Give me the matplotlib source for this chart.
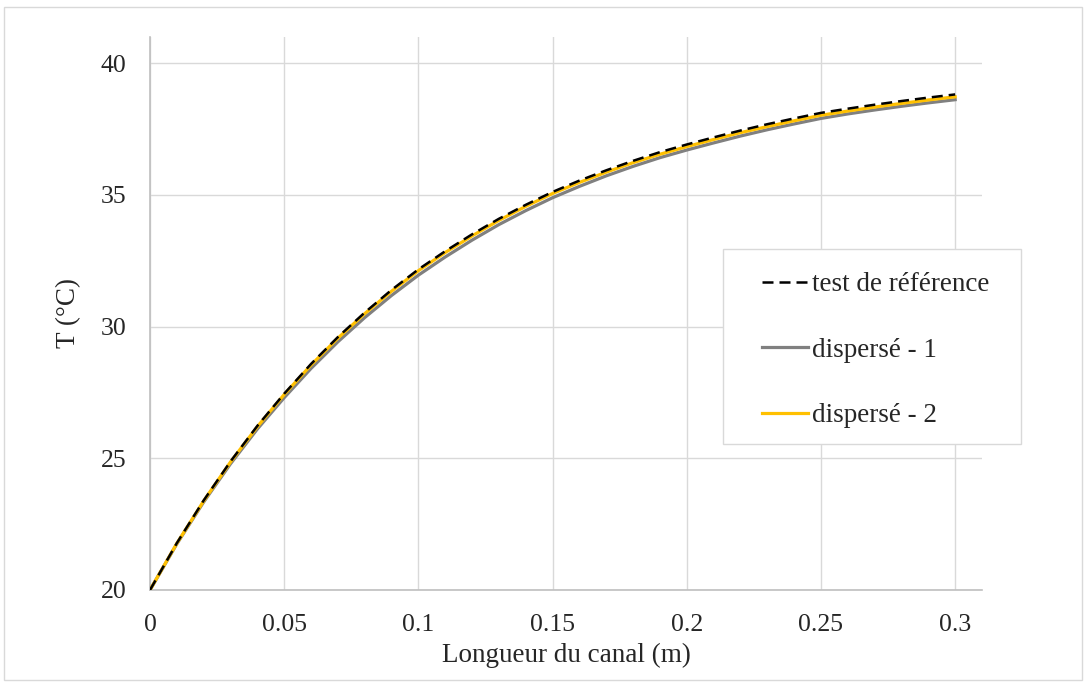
import matplotlib
matplotlib.use("Agg")
import matplotlib.pyplot as plt
from matplotlib.patches import Rectangle

plt.rcParams['font.family'] = ['Liberation Serif', 'DejaVu Serif']

x = [0.00, 0.01, 0.02, 0.03, 0.04, 0.05, 0.06, 0.07, 0.08, 0.09, 0.10,
     0.11, 0.12, 0.13, 0.14, 0.15, 0.16, 0.17, 0.18, 0.19, 0.20,
     0.21, 0.22, 0.23, 0.24, 0.25, 0.26, 0.27, 0.28, 0.29, 0.30]

t_ref = [20.00, 21.78, 23.40, 24.88, 26.23, 27.45, 28.58, 29.60, 30.53, 31.39, 32.17,
         32.86, 33.50, 34.09, 34.62, 35.11, 35.54, 35.93, 36.29, 36.62, 36.91,
         37.18, 37.44, 37.68, 37.90, 38.11, 38.27, 38.42, 38.56, 38.69, 38.81]

t_disp1 = [20.00, 21.75, 23.34, 24.79, 26.11, 27.30, 28.41, 29.42, 30.34, 31.18, 31.95,
           32.64, 33.28, 33.87, 34.40, 34.89, 35.32, 35.72, 36.08, 36.41, 36.70,
           36.97, 37.23, 37.47, 37.69, 37.90, 38.07, 38.22, 38.36, 38.49, 38.61]

t_disp2 = [20.00, 21.77, 23.38, 24.86, 26.20, 27.42, 28.54, 29.56, 30.49, 31.34, 32.12,
           32.81, 33.44, 34.03, 34.56, 35.05, 35.47, 35.86, 36.22, 36.54, 36.83,
           37.10, 37.36, 37.59, 37.81, 38.02, 38.18, 38.33, 38.47, 38.60, 38.72]

labels = ["test de référence", "dispersé - 1", "dispersé - 2"]
x_ticks = [0, 0.05, 0.1, 0.15, 0.2, 0.25, 0.3]
x_tick_labels = ["0", "0.05", "0.1", "0.15", "0.2", "0.25", "0.3"]
y_ticks = [20, 25, 30, 35, 40]
y_tick_labels = ["20", "25", "30", "35", "40"]

W, H = 1087, 684
fig = plt.figure(figsize=(W / 100, H / 100), dpi=100)
fig.patches.append(Rectangle((4 / W, 4 / H), 1078 / W, 673 / H,
                             transform=fig.transFigure, fill=False,
                             edgecolor='#d9d9d9', linewidth=1.0))
ax = fig.add_axes([150 / W, 1 - 590 / H, (982 - 150) / W, (590 - 37) / H])

l2, = ax.plot(x, t_disp1, color='#808080', lw=2.3, label=labels[1], zorder=3)
l3, = ax.plot(x, t_disp2, color='#FFC000', lw=2.3, label=labels[2], zorder=4)
l1, = ax.plot(x, t_ref, color='black', lw=1.8, ls=(0, (4.4, 2.4)), label=labels[0], zorder=5)

ax.set_xlim(0, 0.31)
ax.set_ylim(20, 40.99)
ax.set_xticks(x_ticks)
ax.set_xticklabels(x_tick_labels)
ax.set_yticks(y_ticks)
ax.set_yticklabels(y_tick_labels)
ax.tick_params(length=0, labelsize=18.5, colors='#262626')
ax.tick_params(axis='x', pad=17)
ax.tick_params(axis='y', pad=17)
ax.grid(True, color='#d9d9d9', lw=1.0)
ax.set_axisbelow(True)
for s in ['top', 'right']:
    ax.spines[s].set_visible(False)
for s in ['left', 'bottom']:
    ax.spines[s].set_color('#bfbfbf')
    ax.spines[s].set_linewidth(1.2)

ax.set_xlabel("Longueur du canal (m)", fontsize=19.5, color='#262626', labelpad=5)
ax.set_ylabel("T (°C)", fontsize=19.5, color='#262626', labelpad=14)

# legend frame drawn as a rectangle in figure pixels
fig.patches.append(Rectangle((723 / W, 1 - 444 / H), (1021 - 723) / W, (444 - 249) / H,
                             transform=fig.transFigure, facecolor='white',
                             edgecolor='#d9d9d9', linewidth=1.0, zorder=10))
leg = fig.legend(handles=[l1, l2, l3], loc='upper left',
                 bbox_to_anchor=(762 / W, 1 - 272 / H),
                 bbox_transform=fig.transFigure,
                 fontsize=19.5, frameon=False,
                 borderpad=0, labelspacing=1.5, handlelength=1.7, handletextpad=0.15,
                 borderaxespad=0)
leg.set_zorder(11)
for t in leg.get_texts():
    t.set_color('#262626')

fig.savefig("out.png", dpi=100)
